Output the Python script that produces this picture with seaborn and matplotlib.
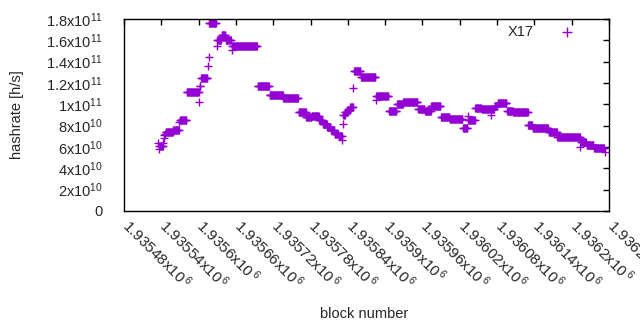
import numpy as np
import pandas as pd
import matplotlib
matplotlib.use("Agg")
import matplotlib.pyplot as plt
import matplotlib.transforms as mtransforms
import seaborn as sns

# ---- data (run-length encoded: first block, number of blocks, hashrate in 1e10 h/s) ----
run_start = [
    1935535, 1935536, 1935537, 1935543, 1935544, 1935545, 1935546, 1935547, 1935559,
    1935569, 1935570, 1935581, 1935601, 1935602, 1935604, 1935615, 1935616, 1935617,
    1935629, 1935630, 1935637, 1935644, 1935653, 1935654, 1935695, 1935714, 1935736,
    1935761, 1935773, 1935782, 1935794, 1935800, 1935807, 1935813, 1935819, 1935825,
    1935831, 1935832, 1935833, 1935836, 1935840, 1935844, 1935849, 1935850, 1935861,
    1935885, 1935886, 1935906, 1935919, 1935929, 1935953, 1935964, 1935974, 1935990,
    1936004, 1936025, 1936033, 1936034, 1936045, 1936055, 1936070, 1936071, 1936076,
    1936081, 1936096, 1936106, 1936130, 1936137, 1936163, 1936177, 1936214, 1936215,
    1936224, 1936236, 1936253,
]
run_length = [
    1, 1, 6, 1, 1, 1, 1, 12, 10,
    1, 11, 20, 1, 2, 11, 1, 1, 12,
    1, 7, 7, 9, 1, 41, 19, 22, 25,
    12, 9, 12, 6, 7, 6, 6, 6, 6,
    1, 1, 3, 4, 4, 5, 1, 11, 24,
    1, 20, 13, 10, 24, 11, 10, 16, 14,
    21, 8, 1, 11, 10, 15, 1, 5, 5,
    15, 10, 24, 7, 26, 14, 37, 1, 9,
    12, 17, 1,
]
run_hashrate = [
    6.35, 5.8, 6.07, 6.4, 7.1, 6.8, 7.2, 7.37, 7.56,
    8.37, 8.5, 11.13, 10.2, 11.75, 12.47, 13.6, 14.47, 17.65,
    15.5, 16.06, 16.5, 16.06, 15.1, 15.5, 11.75, 10.92, 10.56,
    9.3, 8.77, 8.92, 8.53, 8.14, 7.85, 7.55, 7.25, 7.0,
    6.7, 8.2, 9.0, 9.25, 9.5, 9.75, 11.5, 13.1, 12.6,
    10.4, 10.82, 9.37, 10.0, 10.22, 9.6, 9.34, 9.88, 8.84,
    8.63, 7.78, 8.9, 8.53, 9.66, 9.6, 9.0, 9.6, 9.8,
    10.13, 9.42, 9.25, 8.09, 7.81, 7.37, 6.97, 6.03, 6.5,
    6.22, 5.94, 5.5,
]

x_tick_values = [1935480, 1935540, 1935600, 1935660, 1935720, 1935780, 1935840,
                 1935900, 1935960, 1936020, 1936080, 1936140, 1936200, 1936260]
x_tick_labels = ["1.93548", "1.93554", "1.9356", "1.93566", "1.93572", "1.93578", "1.93584",
                 "1.9359", "1.93596", "1.93602", "1.93608", "1.93614", "1.9362", "1.93626"]
y_tick_values = [0, 2e10, 4e10, 6e10, 8e10, 1e11, 1.2e11, 1.4e11, 1.6e11, 1.8e11]
y_tick_labels = ["0", "2x10$^{10}$", "4x10$^{10}$", "6x10$^{10}$", "8x10$^{10}$",
                 "1x10$^{11}$", "1.2x10$^{11}$", "1.4x10$^{11}$", "1.6x10$^{11}$", "1.8x10$^{11}$"]
series_name = "X17"

blocks = np.concatenate([np.arange(s, s + n) for s, n in zip(run_start, run_length)])
hashrate = np.repeat(np.array(run_hashrate) * 1e10, run_length)
df = pd.DataFrame({"block": blocks, "hashrate": hashrate})

sns.set_style("white")
plt.rcParams["font.family"] = ["Liberation Sans", "DejaVu Sans"]
plt.rcParams["mathtext.default"] = "regular"
FS = 10.5

fig = plt.figure(figsize=(6.4, 3.3), dpi=100)
ax = fig.add_axes([124 / 640, 1 - 211 / 330, 485 / 640, 192 / 330])

sns.scatterplot(data=df, x="block", y="hashrate", marker="+", color="#9400D3",
                s=32, linewidth=1.0, label=series_name, ax=ax)

ax.set_xlim(x_tick_values[0], x_tick_values[-1])
ax.set_ylim(0, 1.8e11)
ax.set_xticks(x_tick_values)
ax.set_xticklabels([lab + r"x10$^{\,6}$" for lab in x_tick_labels], rotation=-45,
                   ha="left", va="top", rotation_mode="anchor", fontsize=11)
ax.set_yticks(y_tick_values)
ax.set_yticklabels(y_tick_labels, fontsize=FS)
ax.tick_params(direction="in", length=4, width=1, top=True, right=True, color="black")
ax.tick_params(axis="y", pad=15.5)
ax.tick_params(axis="x", pad=10)
shift = mtransforms.ScaledTranslation(0.08, 0.09, fig.dpi_scale_trans)
for lab in ax.get_xticklabels():
    lab.set_transform(lab.get_transform() + shift)
for sp in ax.spines.values():
    sp.set_visible(True)
    sp.set_color("black")
    sp.set_linewidth(1)

ax.set_xlabel("block number", fontsize=FS)
ax.set_ylabel("hashrate [h/s]", fontsize=FS)
ax.xaxis.set_label_coords((364 - 124) / 485, (211 - 307) / 192)
ax.yaxis.set_label_coords((24 - 124) / 485, 0.5)

leg = ax.legend(loc="center right", bbox_to_anchor=((582 - 124) / 485, (211 - 32) / 192),
                frameon=False, markerfirst=False, borderaxespad=0, borderpad=0,
                handlelength=2, handletextpad=1.3, fontsize=FS)
for h in leg.legend_handles:
    h.set_sizes([45])

fig.savefig("out.png", dpi=100)
